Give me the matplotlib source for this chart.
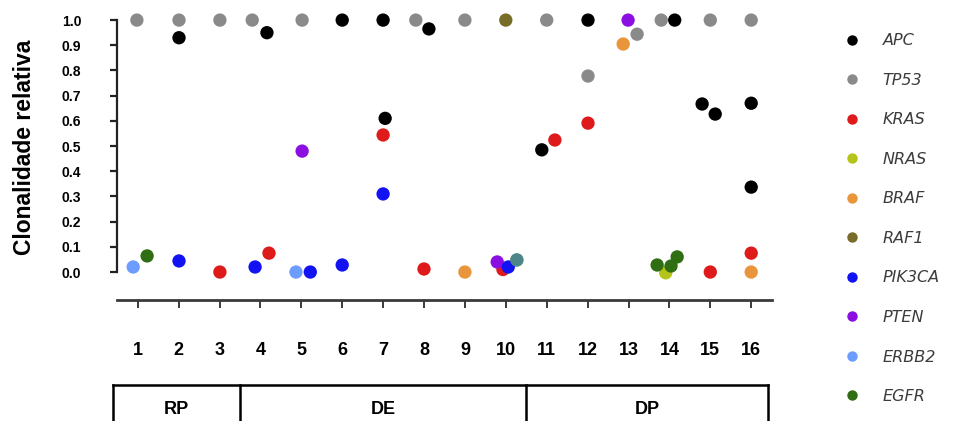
import matplotlib
matplotlib.use("Agg")
import matplotlib.pyplot as plt
from matplotlib.lines import Line2D
import matplotlib.transforms as mtransforms

plt.rcParams['font.family'] = ['Liberation Sans', 'DejaVu Sans']

# ---------------- data ----------------
samples = list(range(1, 17))
sample_labels = [str(s) for s in samples]
yticks = [0.0, 0.1, 0.2, 0.3, 0.4, 0.5, 0.6, 0.7, 0.8, 0.9, 1.0]
ytick_labels = ["0.0", "0.1", "0.2", "0.3", "0.4", "0.5", "0.6", "0.7", "0.8", "0.9", "1.0"]

groups = ["RP", "DE", "DP"]
group_sizes = [3, 7, 6]

genes = ["APC", "TP53", "KRAS", "NRAS", "BRAF", "RAF1", "PIK3CA", "PTEN", "ERBB2", "EGFR"]

# x = sample position (with the jitter), y = relative clonality
apc_x = [2.01, 4.16, 6.0, 7.0, 7.05, 8.12, 10.88, 12.01, 14.13, 14.80, 15.12, 16.0, 16.0]
apc_y = [0.93, 0.95, 1.0, 1.0, 0.61, 0.965, 0.485, 1.0, 1.0, 0.667, 0.627, 0.67, 0.337]

tp53_x = [0.98, 2.01, 3.01, 3.80, 5.02, 7.80, 9.0, 11.0, 12.01, 13.21, 13.80, 15.0, 16.0]
tp53_y = [1.0, 1.0, 1.0, 1.0, 1.0, 1.0, 1.0, 1.0, 0.778, 0.944, 1.0, 1.0, 1.0]

kras_x = [3.01, 4.21, 7.0, 8.0, 9.93, 11.2, 12.01, 15.0, 16.0]
kras_y = [0.0, 0.075, 0.544, 0.012, 0.01, 0.524, 0.591, 0.0, 0.075]

nras_x = [13.91]
nras_y = [-0.003]

braf_x = [9.0, 12.87, 16.0]
braf_y = [0.0, 0.905, 0.0]

raf1_x = [10.0]
raf1_y = [1.0]

pik3ca_x = [2.01, 3.87, 5.22, 6.0, 7.0, 10.06]
pik3ca_y = [0.044, 0.02, 0.0, 0.028, 0.31, 0.02]

pten_x = [5.02, 9.79, 12.99]
pten_y = [0.48, 0.04, 1.0]

erbb2_x = [0.89, 4.87, 10.27]
erbb2_y = [0.02, 0.0, 0.048]

egfr_x = [1.23, 10.27, 13.70, 14.04, 14.19]
egfr_y = [0.064, 0.048, 0.028, 0.024, 0.06]

# ---------------- styles ----------------
colors = {
    "APC": "#000000", "TP53": "#8a8a8a", "KRAS": "#de1a1a", "NRAS": "#b4c41a",
    "BRAF": "#e8953c", "RAF1": "#776c28", "PIK3CA": "#1212f2", "PTEN": "#8a0fe0",
    "ERBB2": "#6d9cff", "EGFR": "#2f6e12",
}
series = {
    "APC": (apc_x, apc_y), "TP53": (tp53_x, tp53_y), "KRAS": (kras_x, kras_y),
    "NRAS": (nras_x, nras_y), "BRAF": (braf_x, braf_y), "RAF1": (raf1_x, raf1_y),
    "PIK3CA": (pik3ca_x, pik3ca_y), "PTEN": (pten_x, pten_y),
    "ERBB2": (erbb2_x, erbb2_y), "EGFR": (egfr_x, egfr_y),
}

W, H = 964, 421
fig = plt.figure(figsize=(W / 100, H / 100), dpi=100)

# axes geometry (pixels)
ax_left, ax_right = 117.25, 771.65
ax_bottom_px, ax_top_px = 300, 8
ax = fig.add_axes([ax_left / W, (H - ax_bottom_px) / H,
                   (ax_right - ax_left) / W, (ax_bottom_px - ax_top_px) / H])
ax.set_xlim(0.5, 16.5)
ax.set_ylim(-0.111, 1.048)

draw_order = ["TP53", "APC", "KRAS", "NRAS", "BRAF", "RAF1", "PTEN", "PIK3CA", "EGFR", "ERBB2"]
for g in draw_order:
    xs, ys = series[g]
    if g == "ERBB2":
        # last ERBB2 point overlaps EGFR (teal blend), others opaque
        ax.scatter(xs[:-1], ys[:-1], s=92, color=colors[g], edgecolors='none', zorder=3)
        ax.scatter(xs[-1:], ys[-1:], s=92, color=colors[g], edgecolors='none', alpha=0.5, zorder=3)
    else:
        ax.scatter(xs, ys, s=92, color=colors[g], edgecolors='none', zorder=3)

# spines
for s in ["top", "right"]:
    ax.spines[s].set_visible(False)
ax.spines["left"].set_bounds(0, 1)
ax.spines["left"].set_linewidth(1.6)
ax.spines["left"].set_color("#222222")
ax.spines["bottom"].set_linewidth(2.0)
ax.spines["bottom"].set_color("#3a3a3a")

ax.set_yticks(yticks)
ax.set_yticklabels(ytick_labels, fontsize=10, fontweight='bold')
ax.tick_params(axis='y', direction='out', length=5, width=1.6, pad=21, color="#222222")

ax.set_xticks(samples)
ax.set_xticklabels(sample_labels, fontsize=13, fontweight='bold')
ax.tick_params(axis='x', direction='out', length=6, width=1.4, pad=24, color="#3a3a3a")

fig.text(25 / W, 1 - 147.5 / H, "Clonalidade relativa", rotation=90, ha='center',
         va='center', fontsize=16.5, fontweight='bold')

# group box below the axis
trans = mtransforms.blended_transform_factory(ax.transData, fig.transFigure)
box_top = (H - 385) / H
edges = [0.4]
acc = 0.5
for n in group_sizes:
    acc += n
    edges.append(acc)
edges[-1] = 16.4
ax.plot([edges[0], edges[-1]], [box_top, box_top], transform=trans, color='black',
        lw=1.8, clip_on=False, solid_capstyle='projecting')
for e in edges:
    ax.plot([e, e], [box_top, -0.05], transform=trans, color='black', lw=1.8, clip_on=False)
for i, g in enumerate(groups):
    ax.text((edges[i] + edges[i + 1]) / 2, (H - 409) / H, g, transform=trans,
            ha='center', va='center', fontsize=13, fontweight='bold')

# legend
handles = [Line2D([0], [0], marker='o', linestyle='none', markersize=7.5,
                  markerfacecolor=colors[g], markeredgecolor='none') for g in genes]
leg = fig.legend(handles, genes, loc='upper left', bbox_to_anchor=(829 / W, 1 - 19 / H),
                 frameon=False, handletextpad=1.345, labelspacing=1.535, handlelength=1.1,
                 prop={'family': 'DejaVu Sans', 'style': 'italic', 'size': 11.5})
for t in leg.get_texts():
    t.set_color("#3c3c3c")

fig.savefig("out.png", dpi=100)
